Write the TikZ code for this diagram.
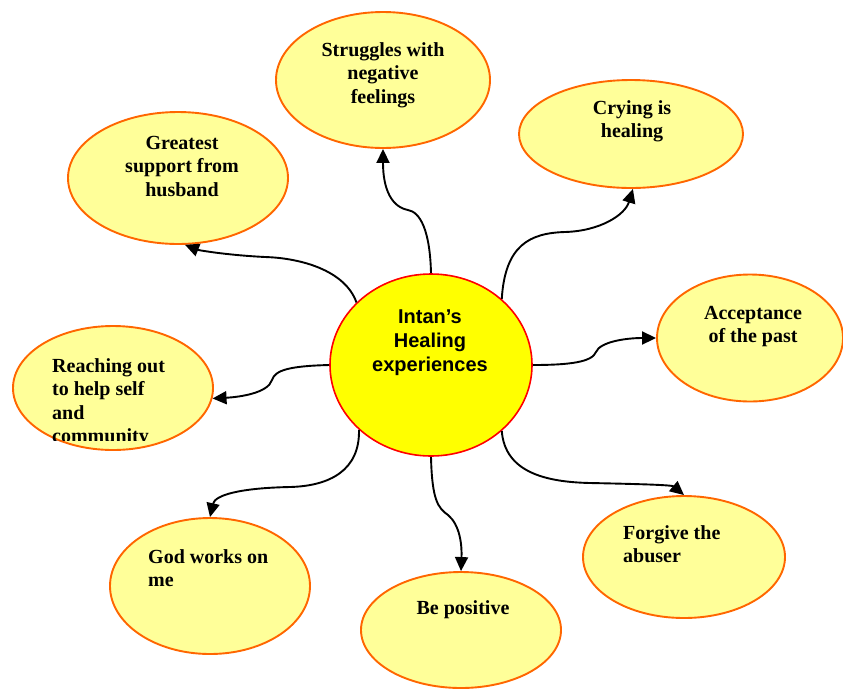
\documentclass[tikz,border=0pt]{standalone}
\usepackage{fontspec}
\setmainfont{Liberation Serif}
\newfontfamily\hubfont{Liberation Sans}
\usetikzlibrary{shapes.geometric,arrows.meta}
\definecolor{bubblefill}{HTML}{FFFF99}
\definecolor{bubbleline}{HTML}{FF6600}
\definecolor{hubfill}{HTML}{FFFF00}
\begin{document}
\begin{tikzpicture}[x=1pt,y=-1pt,
  bubble/.style={ellipse,draw=bubbleline,line width=1.9pt,fill=bubblefill,inner sep=0pt},
  hub/.style={ellipse,draw=red,line width=1.6pt,fill=hubfill,inner sep=0pt},
  caption/.style={inner sep=0pt,font=\fontsize{20}{23.5}\selectfont\bfseries},
  hubtext/.style={inner sep=0pt,align=center,font=\hubfont\fontsize{20}{24}\selectfont\bfseries},
  conn/.style={line width=1.9pt,-{Triangle[length=14pt,width=13pt]}},
]
% canvas
\fill[white] (0,0) rectangle (843,689);
\useasboundingbox (0,0) rectangle (843,689);

% central idea
\node[hub,minimum width=202pt,minimum height=182pt] (c) at (431,365) {};
\node[hubtext,anchor=north] (ctext) at (430,310) {Intan’s\\Healing\\experiences};

% surrounding ideas
\node[bubble,minimum width=220pt,minimum height=132pt] (husband) at (178,178) {};
\node[bubble,minimum width=214pt,minimum height=136pt] (struggles) at (383,80) {};
\node[bubble,minimum width=224pt,minimum height=108pt] (crying) at (631,134) {};
\node[bubble,minimum width=186pt,minimum height=127pt] (acceptance) at (750,338) {};
\node[bubble,minimum width=200pt,minimum height=124pt] (reaching) at (113,388) {};
\node[bubble,minimum width=200pt,minimum height=136pt] (god) at (210,586) {};
\node[bubble,minimum width=200pt,minimum height=116pt] (positive) at (461,630) {};
\node[bubble,minimum width=202pt,minimum height=122pt] (forgive) at (684,557) {};

% their captions
\node[caption,align=center,anchor=north] (husbandtext) at (182,136) {Greatest\\support from\\husband};
\node[caption,align=center,anchor=north] (strugglestext) at (383,42) {Struggles with\\negative\\feelings};
\node[caption,align=center,anchor=north] (cryingtext) at (632,100) {Crying is\\healing};
\node[caption,align=center,anchor=north] (acceptancetext) at (753,306) {Acceptance\\of the past};
\begin{scope}
  \clip (0,300) rectangle (300,440);
  \node[caption,align=left,anchor=north west] (reachingtext) at (52,358) {Reaching out\\to help self\\and\\community};
\end{scope}
\node[caption,align=left,anchor=north west] (godtext) at (148,549) {God works on\\me};
\node[caption,align=center,anchor=north] (positivetext) at (463,600) {Be positive};
\node[caption,align=left,anchor=north west] (forgivetext) at (623,525) {Forgive the\\abuser};

% curved connectors from the centre outwards
\draw[conn] (c.140) .. controls (345,270) and (300,258) .. (265,257)
            .. controls (225,255) and (198,250) .. (husband.-84);
\draw[conn] (c.90) .. controls (430,230) and (420,212) .. (408,210)
            .. controls (392,207) and (383,190) .. (struggles.south);
\draw[conn] (c.43) .. controls (505,245) and (530,233) .. (565,232)
            .. controls (600,231) and (625,215) .. (crying.-88);
\draw[conn] (c.0) .. controls (570,365) and (592,362) .. (596,352)
            .. controls (600,342) and (625,338) .. (acceptance.west);
\draw[conn] (c.180) .. controls (290,366) and (275,370) .. (272,380)
            .. controls (268,393) and (240,397) .. (reaching.-6);
\draw[conn] (c.222) .. controls (360,470) and (330,486) .. (290,487)
            .. controls (240,488) and (215,495) .. (god.north);
\draw[conn] (c.-90) .. controls (432,500) and (438,508) .. (448,515)
            .. controls (460,525) and (462,545) .. (positive.north);
\draw[conn] (c.-43) .. controls (505,472) and (545,482) .. (590,483)
            .. controls (640,484) and (672,485) .. (forgive.north);
\end{tikzpicture}
\end{document}
